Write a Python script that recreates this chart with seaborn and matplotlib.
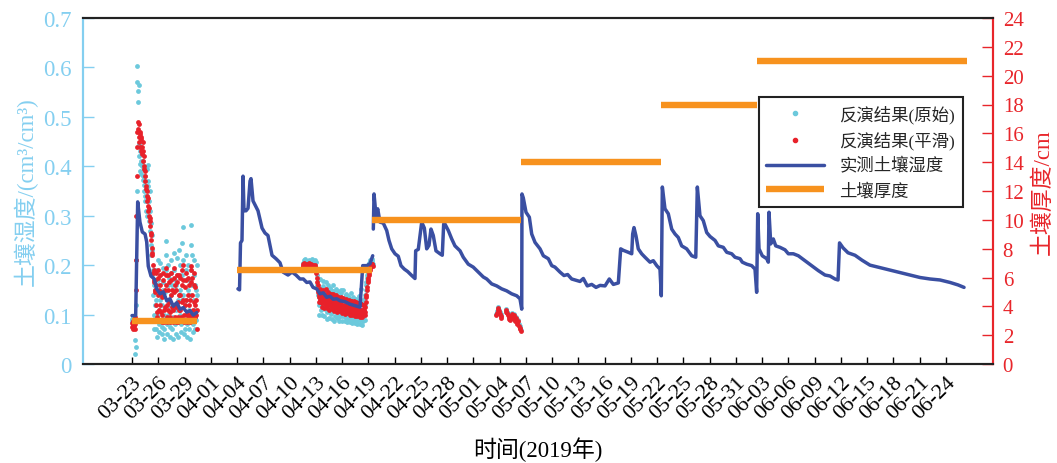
import numpy as np
import pandas as pd
import matplotlib
matplotlib.use("Agg")
import matplotlib.pyplot as plt
from matplotlib.lines import Line2D
import seaborn as sns

# ---------------- data ----------------
BASE = "2019-03-23"
NAN = np.nan

# measured soil moisture (days after 03-23, cm3/cm3); NaN = gap
meas_day = [0.0, 0.42, 0.65, 0.91, 1.18, 1.49, 1.68, 1.86, 2.17, 2.55, 2.82, 3.2, 3.58, 3.97, 4.34,
            4.72, 5.11, 5.49, 5.86, 6.25, 6.63, 7.0, 7.39, NAN,
            12.11, 12.29, 12.4, 12.57, 12.69, 12.8, 13.03, 13.26, 13.49, 13.6, 13.83, 14.4, 14.86,
            15.2, 15.54, 16.0, 16.46, 16.91, 17.26, 17.83, 18.29, 18.74, 19.2, 19.58, 19.97, 20.34,
            20.69, 21.11, 21.49, 21.86, 22.25, 22.63, 23.0, 23.39, 23.77, 24.34, 24.91, 25.49, 26.06,
            26.37, 26.83, 27.2, 27.51, NAN,
            27.58, 27.66, 27.89, 28.08, 28.34, 28.72, 29.11, 29.37, 29.68, 30.06, 30.43, 30.74, 31.12,
            31.51, 31.97, 32.34, 32.42, 32.72, 33.11, 33.41, 33.68, 33.94, 34.17, 34.43, 34.74, 35.2,
            35.46, 35.62, 35.77, 36.15, 36.54, 36.91, 37.49, 37.86, 38.43, 39.0, 39.58, 40.15, 40.54,
            41.11, 41.68, 42.25, 42.82, 43.39, 43.97, 44.34, 44.54, 44.57, 44.72, 45.03, 45.41, 45.68,
            46.06, 46.63, 47.01, 47.58, 47.97, 48.34, 48.91, 49.37, 49.79, 50.25, 50.82, 51.2, 51.58,
            52.03, 52.54, 53.03, 53.49, 54.06, 54.55, 55.01, 55.58, 55.85, 56.15, 56.72, 57.11, 57.22,
            57.37, 57.6, 57.86, 58.25, 58.63, 59.2, 59.58, 59.97, 60.34, 60.49, 60.61, 60.91, 61.29,
            61.68, 62.06, 62.43, 62.82, 63.39, 63.97, 64.43, 64.61, 64.91, 65.29, 65.68, 66.06, 66.63,
            67.01, 67.58, 67.97, 68.54, 68.91, 69.49, 69.75, 70.25, 70.82, 71.2, 71.39, 71.51, 71.66,
            72.03, 72.54, 72.72, 72.8, 73.0, 73.29, 73.57, 74.06, 74.63, 75.01, 75.58, 76.15, 76.91,
            77.68, 78.43, 79.2, 79.77, 80.34, 80.69, 80.86, 81.26, 81.83, 82.63, 83.43, 84.34, 85.49,
            86.63, 87.77, 88.91, 90.06, 91.2, 92.34, 93.49, 94.4, 95.09]
meas_val = [0.098, 0.098, 0.328, 0.287, 0.267, 0.263, 0.247, 0.198, 0.178, 0.172, 0.152, 0.142, 0.146,
            0.128, 0.132, 0.117, 0.124, 0.111, 0.114, 0.105, 0.108, 0.099, 0.104, NAN,
            0.152, 0.150, 0.245, 0.25, 0.38, 0.31, 0.31, 0.315, 0.37, 0.375, 0.33, 0.31, 0.275,
            0.265, 0.26, 0.22, 0.213, 0.205, 0.186, 0.18, 0.186, 0.18, 0.172, 0.172, 0.165, 0.166,
            0.155, 0.152, 0.142, 0.144, 0.135, 0.137, 0.131, 0.132, 0.128, 0.126, 0.121, 0.118, 0.115,
            0.199, 0.199, 0.203, 0.219, NAN,
            0.273, 0.344, 0.30, 0.314, 0.287, 0.285, 0.27, 0.25, 0.233, 0.223, 0.218, 0.199, 0.192,
            0.187, 0.179, 0.173, 0.229, 0.232, 0.287, 0.275, 0.233, 0.24, 0.273, 0.26, 0.229, 0.223,
            0.22, 0.283, 0.283, 0.27, 0.253, 0.239, 0.229, 0.216, 0.202, 0.196, 0.186, 0.176, 0.172,
            0.162, 0.158, 0.152, 0.148, 0.142, 0.138, 0.132, 0.111, 0.344, 0.336, 0.307, 0.297, 0.263,
            0.246, 0.233, 0.219, 0.213, 0.199, 0.196, 0.186, 0.179, 0.181, 0.172, 0.169, 0.167, 0.173,
            0.158, 0.161, 0.155, 0.159, 0.158, 0.172, 0.161, 0.164, 0.233, 0.23, 0.226, 0.223, 0.263,
            0.276, 0.259, 0.233, 0.223, 0.216, 0.206, 0.209, 0.199, 0.192, 0.138, 0.358, 0.314, 0.304,
            0.273, 0.263, 0.256, 0.239, 0.233, 0.219, 0.216, 0.358, 0.30, 0.29, 0.266, 0.258, 0.25,
            0.239, 0.236, 0.226, 0.223, 0.216, 0.213, 0.206, 0.202, 0.199, 0.192, 0.145, 0.304, 0.233,
            0.219, 0.213, 0.206, 0.307, 0.243, 0.253, 0.239, 0.236, 0.231, 0.223, 0.223, 0.219, 0.209,
            0.199, 0.189, 0.18, 0.178, 0.172, 0.17, 0.245, 0.235, 0.225, 0.22, 0.21, 0.2, 0.195,
            0.19, 0.185, 0.18, 0.175, 0.172, 0.17, 0.165, 0.16, 0.155]

# soil thickness (cm): start / end of each period
thick_start = ["2019-03-23 00:00", "2019-04-04 00:00", "2019-04-19 11:00",
               "2019-05-06 12:00", "2019-05-22 12:00", "2019-06-02 10:00"]
thick_end = ["2019-03-30 10:00", "2019-04-19 11:00", "2019-05-06 12:00",
             "2019-05-22 12:00", "2019-06-02 10:00", "2019-06-26 10:00"]
thick_val = [3, 6.5, 10, 14, 18, 21]

# retrieval results, period A: hourly from 03-23 00:00
rawA = [0.092, 0.088, 0.095, 0.090, 0.097, 0.086, 0.093, 0.089,
        0.021, 0.048, 0.035, 0.12, 0.21, 0.35, 0.603, 0.57,
        0.553, 0.53, 0.565, 0.42, 0.445, 0.405, 0.43, 0.39,
        0.44, 0.41, 0.385, 0.425, 0.40, 0.372, 0.41, 0.38,
        0.35, 0.395, 0.362, 0.34, 0.38, 0.33, 0.355, 0.31,
        0.34, 0.30, 0.395, 0.37, 0.402, 0.36, 0.33, 0.29,
        0.35, 0.27, 0.31, 0.24, 0.285, 0.22, 0.26, 0.18,
        0.23, 0.14, 0.19, 0.10, 0.16, 0.07, 0.12, 0.09,
        0.15, 0.19, 0.13, 0.07, 0.055, 0.10, 0.17, 0.21, 0.16, 0.11, 0.065, 0.08,
        0.13, 0.18, 0.205, 0.14, 0.09, 0.06, 0.075, 0.12, 0.165, 0.195, 0.15, 0.10,
        0.07, 0.05, 0.09, 0.145, 0.22, 0.248, 0.19, 0.13, 0.08, 0.06, 0.10, 0.16,
        0.20, 0.175, 0.12, 0.075, 0.055, 0.085, 0.14, 0.185, 0.21, 0.16, 0.11, 0.07,
        0.05, 0.095, 0.15, 0.19, 0.225, 0.17, 0.12, 0.08, 0.06, 0.11, 0.16, 0.215,
        0.18, 0.13, 0.085, 0.055, 0.09, 0.14, 0.23, 0.20, 0.15, 0.10, 0.065, 0.08,
        0.13, 0.18, 0.245, 0.277, 0.21, 0.14, 0.09, 0.06, 0.07, 0.12, 0.17, 0.22,
        0.19, 0.13, 0.08, 0.055, 0.10, 0.15, 0.20, 0.17, 0.11, 0.07, 0.05, 0.09,
        0.14, 0.19, 0.24, 0.281, 0.22, 0.16, 0.10, 0.065, 0.08, 0.13, 0.18, 0.21,
        0.16, 0.11, 0.07, 0.09, 0.15, 0.20, 0.14]
smoothA = [0.082, 0.075, 0.088, 0.079, 0.071, 0.085, 0.076, 0.08,
           0.07, 0.095, 0.15, 0.21, 0.30, 0.38, 0.44, 0.47,
           0.49, 0.475, 0.46, 0.485, 0.45, 0.47, 0.44, 0.465,
           0.455, 0.43, 0.46, 0.44, 0.425, 0.45, 0.43, 0.41,
           0.42, 0.40, 0.395, 0.38, 0.39, 0.37, 0.36, 0.355,
           0.34, 0.35, 0.33, 0.32, 0.335, 0.31, 0.30, 0.315,
           0.29, 0.28, 0.295, 0.265, 0.25, 0.26, 0.235, 0.22,
           0.225, 0.20, 0.185, 0.19, 0.165, 0.17, 0.145, 0.15,
           0.17, 0.185, 0.16, 0.12, 0.095, 0.105, 0.14, 0.175, 0.19, 0.15, 0.11, 0.09,
           0.12, 0.16, 0.18, 0.145, 0.105, 0.085, 0.10, 0.135, 0.17, 0.185, 0.14, 0.11,
           0.09, 0.085, 0.115, 0.15, 0.18, 0.195, 0.16, 0.12, 0.095, 0.085, 0.11, 0.15,
           0.18, 0.165, 0.125, 0.095, 0.085, 0.105, 0.14, 0.17, 0.185, 0.15, 0.115, 0.09,
           0.085, 0.11, 0.145, 0.175, 0.195, 0.16, 0.12, 0.095, 0.085, 0.115, 0.15, 0.18,
           0.165, 0.125, 0.095, 0.085, 0.11, 0.14, 0.18, 0.175, 0.14, 0.11, 0.09, 0.095,
           0.125, 0.16, 0.19, 0.2, 0.17, 0.13, 0.1, 0.085, 0.09, 0.12, 0.155, 0.185,
           0.17, 0.13, 0.1, 0.085, 0.105, 0.14, 0.175, 0.16, 0.12, 0.095, 0.085, 0.1,
           0.13, 0.165, 0.19, 0.198, 0.175, 0.14, 0.11, 0.09, 0.095, 0.125, 0.16, 0.185,
           0.155, 0.12, 0.095, 0.1, 0.13, 0.11, 0.07]
# period B: hourly from 04-11 12:00
rawB = [0.200, 0.205, 0.198, 0.210, 0.195, 0.203, 0.212, 0.199, 0.206, 0.194, 0.208, 0.201,
        0.196, 0.209, 0.203, 0.192, 0.207, 0.200, 0.211, 0.197, 0.204, 0.193, 0.206, 0.199,
        0.209, 0.195, 0.202, 0.213, 0.198, 0.205, 0.191, 0.204, 0.199, 0.21, 0.196, 0.203,
        0.194, 0.207, 0.19, 0.18, 0.16, 0.17, 0.14, 0.155, 0.12, 0.135, 0.10, 0.125,
        0.15, 0.171, 0.134, 0.109, 0.10, 0.121, 0.13, 0.158, 0.168, 0.139, 0.124, 0.098,
        0.111, 0.125, 0.146, 0.166, 0.132, 0.113, 0.091, 0.105, 0.137, 0.151, 0.16, 0.128,
        0.115, 0.094, 0.106, 0.122, 0.154, 0.149, 0.133, 0.101, 0.092, 0.108, 0.119, 0.148,
        0.16, 0.126, 0.109, 0.087, 0.098, 0.129, 0.141, 0.152, 0.121, 0.103, 0.093, 0.096,
        0.117, 0.147, 0.137, 0.126, 0.095, 0.088, 0.101, 0.114, 0.143, 0.15, 0.119, 0.104,
        0.087, 0.097, 0.112, 0.131, 0.149, 0.116, 0.102, 0.086, 0.096, 0.109, 0.139, 0.141,
        0.124, 0.092, 0.085, 0.099, 0.107, 0.137, 0.133, 0.118, 0.091, 0.084, 0.094, 0.105,
        0.128, 0.144, 0.111, 0.097, 0.083, 0.092, 0.103, 0.135, 0.131, 0.117, 0.089, 0.082,
        0.091, 0.1, 0.131, 0.129, 0.115, 0.088, 0.081, 0.093, 0.098, 0.126, 0.138, 0.106,
        0.094, 0.08, 0.089, 0.097, 0.127, 0.152, 0.124, 0.099, 0.079, 0.088, 0.095, 0.125,
        0.132, 0.108,
        0.09, 0.12, 0.14, 0.15, 0.165, 0.16, 0.175, 0.18, 0.19, 0.185, 0.195, 0.2, 0.205, 0.198,
        0.207, 0.203, 0.21, 0.2, 0.208, 0.212, 0.205, 0.209, 0.202]
smoothB = [0.198, 0.202, 0.196, 0.204, 0.199, 0.195, 0.203, 0.2, 0.197, 0.201, 0.194, 0.2,
           0.203, 0.197, 0.199, 0.195, 0.201, 0.198, 0.204, 0.196, 0.2, 0.193, 0.199, 0.197,
           0.202, 0.196, 0.199, 0.194, 0.2, 0.197, 0.193, 0.198, 0.195, 0.2, 0.192, 0.196,
           0.19, 0.193, 0.185, 0.175, 0.165, 0.16, 0.15, 0.145, 0.135, 0.14, 0.125, 0.13,
           0.14, 0.151, 0.135, 0.125, 0.115, 0.124, 0.132, 0.146, 0.15, 0.137, 0.128, 0.114,
           0.122, 0.13, 0.14, 0.151, 0.135, 0.125, 0.113, 0.12, 0.129, 0.143, 0.146, 0.132,
           0.123, 0.11, 0.119, 0.127, 0.141, 0.142, 0.133, 0.118, 0.112, 0.117, 0.125, 0.139,
           0.142, 0.128, 0.119, 0.107, 0.115, 0.123, 0.137, 0.14, 0.126, 0.117, 0.105, 0.113,
           0.121, 0.135, 0.136, 0.127, 0.112, 0.107, 0.112, 0.12, 0.133, 0.136, 0.122, 0.113,
           0.103, 0.111, 0.118, 0.131, 0.134, 0.12, 0.111, 0.102, 0.11, 0.117, 0.13, 0.132,
           0.118, 0.108, 0.104, 0.109, 0.116, 0.128, 0.13, 0.116, 0.109, 0.1, 0.108, 0.115,
           0.127, 0.128, 0.114, 0.107, 0.099, 0.107, 0.114, 0.125, 0.127, 0.113, 0.106, 0.098,
           0.106, 0.113, 0.124, 0.125, 0.111, 0.105, 0.097, 0.105, 0.112, 0.123, 0.124, 0.11,
           0.104, 0.096, 0.104, 0.11, 0.121, 0.122, 0.109, 0.103, 0.095, 0.103, 0.108, 0.118,
           0.12, 0.11,
           0.1, 0.105, 0.115, 0.125, 0.135, 0.14, 0.15, 0.155, 0.165, 0.17, 0.175, 0.18, 0.185,
           0.19, 0.19, 0.195, 0.2, 0.198, 0.2, 0.203, 0.2, 0.202, 0.198]
# period C: 2-hourly from 05-03 15:00
rawC = [0.102, 0.107, 0.113, 0.116, 0.110, 0.105, 0.101, 0.097, NAN, NAN, NAN, NAN, NAN,
        0.112, 0.109, 0.106, 0.103, 0.099, 0.095, 0.092, NAN, 0.104, 0.100, 0.097, 0.102,
        0.094, 0.090, 0.096, 0.087, 0.083, 0.089, 0.080, 0.076, 0.073, 0.069]
smoothC = [0.099, 0.104, 0.110, 0.113, 0.107, 0.102, 0.098, 0.094, NAN, NAN, NAN, NAN, NAN,
           0.109, 0.106, 0.103, 0.100, 0.096, 0.092, 0.089, NAN, 0.101, 0.097, 0.094, 0.099,
           0.091, 0.087, 0.093, 0.084, 0.080, 0.086, 0.077, 0.073, 0.070, 0.066]

ytick_left = [0, 0.1, 0.2, 0.3, 0.4, 0.5, 0.6, 0.7]
ytick_left_lbl = ["0", "0.1", "0.2", "0.3", "0.4", "0.5", "0.6", "0.7"]
ytick_right = list(range(0, 25, 2))

# ---------------- styling ----------------
C_RAW = "#6cc9dc"
C_SMOOTH = "#e8212a"
C_MEAS = "#3a4fa2"
C_THICK = "#f7921e"
C_LEFT = "#84cff0"
C_RIGHT = "#e8262b"

sns.set_theme(style="ticks")
plt.rcParams["font.family"] = ["Liberation Serif", "Noto Sans CJK SC"]
plt.rcParams["axes.unicode_minus"] = False

base = pd.Timestamp(BASE)

dm = pd.DataFrame({"t": base + pd.to_timedelta(np.array(meas_day, dtype=float), unit="D"),
                   "v": meas_val})
dm["seg"] = dm["v"].isna().cumsum()
dm = dm.dropna()

parts = []
for start, freq, raw, smo in [("2019-03-23 00:00", "1h", rawA, smoothA),
                              ("2019-04-11 12:00", "1h", rawB, smoothB),
                              ("2019-05-03 15:00", "2h", rawC, smoothC)]:
    parts.append(pd.DataFrame({"t": pd.date_range(start, periods=len(raw), freq=freq),
                               "raw": raw, "smooth": smo}))
ds = pd.concat(parts, ignore_index=True)

rows = []
for i, (s, e, v) in enumerate(zip(thick_start, thick_end, thick_val)):
    rows.append({"t": pd.Timestamp(s), "v": v, "seg": i})
    rows.append({"t": pd.Timestamp(e), "v": v, "seg": i})
dt = pd.DataFrame(rows)

fig = plt.figure(figsize=(10.57, 4.64), dpi=100)
ax = fig.add_axes([83 / 1057, 1 - 365 / 464, 910 / 1057, 346 / 464])
ax2 = ax.twinx()

sns.scatterplot(data=ds.dropna(subset=["raw"]), x="t", y="raw", color=C_RAW, s=12,
                linewidth=0, ax=ax, zorder=2)
sns.scatterplot(data=ds.dropna(subset=["smooth"]), x="t", y="smooth", color=C_SMOOTH, s=12,
                linewidth=0, ax=ax, zorder=3)
sns.lineplot(data=dm, x="t", y="v", units="seg", estimator=None, sort=False, color=C_MEAS,
             linewidth=2.5, ax=ax, zorder=4)
sns.lineplot(data=dt, x="t", y="v", units="seg", estimator=None, sort=False, color=C_THICK,
             linewidth=4.6, ax=ax2, solid_capstyle="butt")

xmin = base + pd.Timedelta(days=-5.6)
xmax = base + pd.Timedelta(days=98.4)
ax.set_xlim(xmin, xmax)
ax.set_ylim(0, 0.7)
ax2.set_ylim(0, 24)

ticks = pd.date_range("2019-03-23", "2019-06-24", freq="3D")
ax.set_xticks(ticks)
ax.set_xticklabels([d.strftime("%m-%d") for d in ticks], rotation=45, ha="right",
                   va="top", rotation_mode="anchor", fontsize=16)
ax.set_yticks(ytick_left)
ax.set_yticklabels(ytick_left_lbl, fontsize=16.5)
ax2.set_yticks(ytick_right)
ax2.set_yticklabels([str(v) for v in ytick_right], fontsize=15)

ax.tick_params(axis="x", direction="in", length=5, width=1, colors="black", pad=6)
ax.tick_params(axis="y", direction="in", length=8, width=1, colors=C_LEFT, pad=8)
ax2.tick_params(axis="y", direction="in", length=8, width=1, colors=C_RIGHT, pad=7)

for a in (ax, ax2):
    a.spines["top"].set_color("#222222")
    a.spines["bottom"].set_color("#222222")
    a.spines["left"].set_color(C_LEFT)
    a.spines["right"].set_color(C_RIGHT)
    for sp in a.spines.values():
        sp.set_linewidth(1.5)
        sp.set_visible(True)

ax.set_xlabel("时间(2019年)", fontsize=16.5, color="black", va="center")
ax.xaxis.set_label_coords(0.5, -(450 - 365) / 346)
ax.set_ylabel("土壤湿度/(cm³/cm³)", fontsize=16.5, color=C_LEFT, labelpad=4)
ax2.set_ylabel("土壤厚度/cm", fontsize=16.5, color=C_RIGHT, labelpad=6)

handles = [Line2D([], [], ls="", marker="o", ms=3, color=C_RAW),
           Line2D([], [], ls="", marker="o", ms=3, color=C_SMOOTH),
           Line2D([], [], color=C_MEAS, lw=2.5),
           Line2D([], [], color=C_THICK, lw=4.6, solid_capstyle="butt")]
labels = ["反演结果(原始)", "反演结果(平滑)", "实测土壤湿度", "土壤厚度"]
leg = ax2.legend(handles, labels, loc="upper right", bbox_to_anchor=(0.967, 0.772),
                 frameon=True, fancybox=False, edgecolor="#222222", framealpha=1,
                 fontsize=12.5, handlelength=3.3, labelspacing=0.45, borderaxespad=0,
                 borderpad=0.45, handletextpad=0.9)
leg.get_frame().set_linewidth(1.5)

fig.savefig("out.png", dpi=100)
